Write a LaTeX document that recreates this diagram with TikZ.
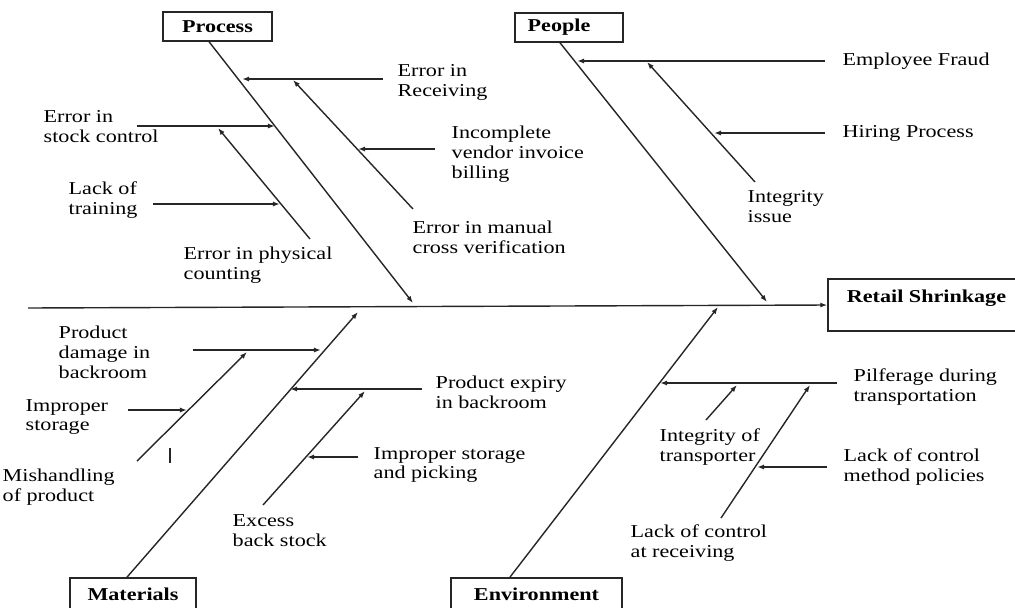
\documentclass[tikz,border=0pt]{standalone}
\usepackage{fontspec}
\setmainfont{Liberation Serif}[FakeStretch=1.22]
\usetikzlibrary{arrows.meta}

\begin{document}
\begin{tikzpicture}[x=0.025cm,y=-0.025cm,line width=1pt,draw=black!85]
\tikzset{catbox/.style={draw,line width=1.1pt,inner sep=0pt,
font=\fontsize{12.9}{14.2}\selectfont\bfseries},
causetext/.style={anchor=west,align=left,inner sep=0pt,
font=\fontsize{12.9}{14.2}\selectfont},
arr/.style={-{Latex[length=5pt,width=3.6pt]}},
}
\useasboundingbox (0,0) rectangle (1015,607);

% categories and head
\node[catbox,minimum width=77.5pt,minimum height=20.6pt] (process) at (217.5,26.5) {Process};
\node[catbox,minimum width=76.8pt,minimum height=20.6pt,text width=58.8pt,inner xsep=9pt,align=left] (people) at (569,27.5) {People};
\node[catbox,minimum width=89.6pt,minimum height=22.8pt] (materials) at (133,594) {Materials};
\node[catbox,minimum width=121.6pt,minimum height=22.8pt] (environment) at (536.5,594) {Environment};
\node[catbox,minimum width=140pt,minimum height=37pt,text depth=13pt] (head) at (926.5,305) {Retail Shrinkage};

% labels
\node[causetext] (recv) at (397,82) {Error in\\Receiving};
\node[causetext] (manual) at (412,237) {Error in manual\\cross verification};
\node[causetext] (vendor) at (451,154) {Incomplete\\vendor invoice\\billing};
\node[causetext] (stock) at (43,127) {Error in\\stock control};
\node[causetext] (counting) at (183,265) {Error in physical\\counting};
\node[causetext] (training) at (68,200) {Lack of\\training};
\node[causetext] (fraud) at (842,61) {Employee Fraud};
\node[causetext] (hiring) at (842,133) {Hiring Process};
\node[causetext] (integrity) at (747,207) {Integrity\\issue};
\node[causetext] (damage) at (58,352) {Product\\damage in\\backroom};
\node[causetext] (improper) at (25,417) {Improper\\storage};
\node[causetext] (mishandling) at (2,487) {Mishandling\\of product};
\node[causetext] (expiry) at (435,392) {Product expiry\\in backroom};
\node[causetext] (excess) at (232,531) {Excess\\back stock};
\node[causetext] (picking) at (373,465) {Improper storage\\and picking};
\node[causetext] (pilferage) at (853,387) {Pilferage during\\transportation};
\node[causetext] (transporter) at (659,447) {Integrity of\\transporter};
\node[causetext] (receiving) at (630,543) {Lack of control\\at receiving};
\node[causetext] (policies) at (843,467) {Lack of control\\method policies};

% spine
\coordinate (tail) at (28,308);
\coordinate (procTip) at (413,303);
\coordinate (peopTip) at (767,302);
\coordinate (matTip) at (358,312);
\coordinate (envTip) at (718,307);
\draw[arr] (tail) -- (head.west);

% process
\coordinate (recvS) at (383,79);    \coordinate (recvE) at (242,79);
\coordinate (manualS) at (413,209); \coordinate (manualE) at (293,80);
\coordinate (vendorS) at (435,149); \coordinate (vendorE) at (358,149);
\coordinate (stockS) at (137,126);  \coordinate (stockE) at (275,126);
\coordinate (countS) at (310,239);  \coordinate (countE) at (218,128);
\coordinate (trainS) at (153,204);  \coordinate (trainE) at (280,204);
\draw[arr] ([xshift=-6pt]process.south) -- (procTip);
\draw[arr] (recvS) -- (recvE);
\draw[arr] (manualS) -- (manualE);
\draw[arr] (vendorS) -- (vendorE);
\draw[arr] (stockS) -- (stockE);
\draw[arr] (countS) -- (countE);
\draw[arr] (trainS) -- (trainE);

% people
\coordinate (fraudS) at (825,61);   \coordinate (fraudE) at (577,61);
\coordinate (integS) at (755,182);  \coordinate (integE) at (647,62);
\coordinate (hireS) at (825,133);   \coordinate (hireE) at (714,133);
\draw[arr] ([xshift=-6.4pt]people.south) -- (peopTip);
\draw[arr] (fraudS) -- (fraudE);
\draw[arr] (integS) -- (integE);
\draw[arr] (hireS) -- (hireE);

% materials
\coordinate (damS) at (193,350);    \coordinate (damE) at (321,350);
\coordinate (mishS) at (137,461);   \coordinate (mishE) at (247,352);
\coordinate (impS) at (128,410);    \coordinate (impE) at (187,410);
\coordinate (tickA) at (170,448);   \coordinate (tickB) at (170,463);
\coordinate (expS) at (422,389);    \coordinate (expE) at (290,389);
\coordinate (excS) at (263,505);    \coordinate (excE) at (365,391);
\coordinate (pickS) at (358,457);   \coordinate (pickE) at (307,457);
\draw[arr] ([xshift=-4.3pt]materials.north) -- (matTip);
\draw[arr] (damS) -- (damE);
\draw[arr] (mishS) -- (mishE);
\draw[arr] (impS) -- (impE);
\draw (tickA) -- (tickB);
\draw[arr] (expS) -- (expE);
\draw[arr] (excS) -- (excE);
\draw[arr] (pickS) -- (pickE);

% environment
\coordinate (pilfS) at (837,383);   \coordinate (pilfE) at (660,383);
\coordinate (tranS) at (706,420);   \coordinate (tranE) at (737,385);
\coordinate (rcvS) at (721,518);    \coordinate (rcvE) at (810,385);
\coordinate (polS) at (827,467);    \coordinate (polE) at (757,467);
\draw[arr] ([xshift=-18.9pt]environment.north) -- (envTip);
\draw[arr] (pilfS) -- (pilfE);
\draw[arr] (tranS) -- (tranE);
\draw[arr] (rcvS) -- (rcvE);
\draw[arr] (polS) -- (polE);

\end{tikzpicture}
\end{document}
